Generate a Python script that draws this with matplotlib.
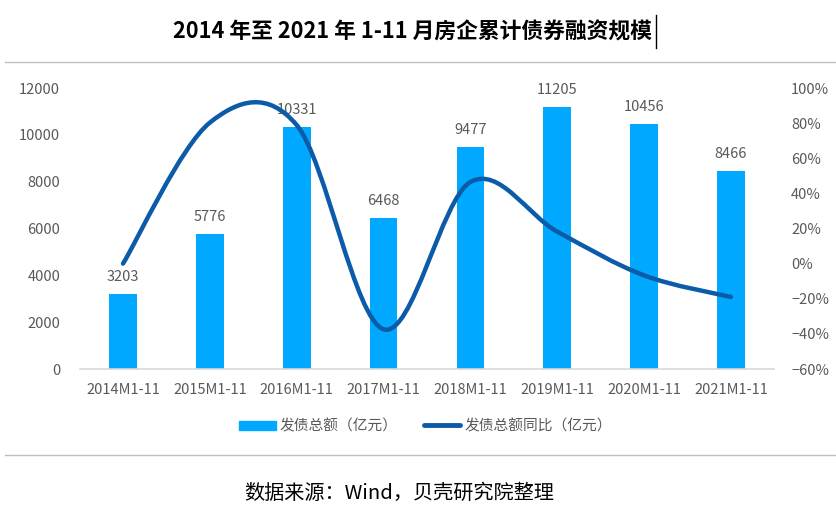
import matplotlib.pyplot as plt
import numpy as np
from matplotlib.path import Path
from matplotlib.patches import PathPatch
from matplotlib.lines import Line2D
from matplotlib.ticker import PercentFormatter

plt.rcParams['font.family'] = ['Noto Sans CJK SC', 'DejaVu Sans']

years = ['2014M1-11', '2015M1-11', '2016M1-11', '2017M1-11',
         '2018M1-11', '2019M1-11', '2020M1-11', '2021M1-11']
amount = [3203, 5776, 10331, 6468, 9477, 11205, 10456, 8466]
yoy = [0.0, 80.3, 78.9, -37.4, 46.5, 18.2, -6.7, -19.0]

BAR_C = '#00A9FF'
LINE_C = '#0B5BA8'
TXT_C = '#595959'


def smooth_path(xs, ys):
    # excel-style smoothed line: cubic bezier through every point
    pts = np.column_stack([xs, ys]).astype(float)
    n = len(pts)
    verts = [pts[0]]
    codes = [Path.MOVETO]
    for i in range(n - 1):
        p0 = pts[max(i - 1, 0)]
        p1 = pts[i]
        p2 = pts[i + 1]
        p3 = pts[min(i + 2, n - 1)]
        c1 = p1 + (p2 - p0) / 6
        c2 = p2 - (p3 - p1) / 6
        verts += [c1, c2, p2]
        codes += [Path.CURVE4] * 3
    return Path(verts, codes)


fig = plt.figure(figsize=(8.36, 5.19), dpi=100)
ax = fig.add_axes([0.0952, 0.289, 0.8311, 0.5414])
x = np.arange(len(years))

ax.bar(x, amount, width=0.32, color=BAR_C, zorder=2)
for xi, v in zip(x, amount):
    ax.annotate(str(v), (xi, v), xytext=(0, 7), textcoords='offset points',
                ha='center', va='bottom', fontsize=10.5, color=TXT_C)

ax.set_xlim(-0.5, len(years) - 0.5)
ax.set_ylim(0, 12000)
ax.set_yticks(range(0, 12001, 2000))
ax.set_xticks(x)
ax.set_xticklabels(years)
ax.tick_params(length=0, labelsize=10.5, labelcolor=TXT_C)
ax.tick_params(axis='x', pad=10)
ax.tick_params(axis='y', pad=14)
for s in ['top', 'right', 'left']:
    ax.spines[s].set_visible(False)
ax.spines['bottom'].set_color('#D9D9D9')
ax.spines['bottom'].set_linewidth(1.2)

ax2 = ax.twinx()
ax2.set_ylim(-60, 100)
ax2.set_yticks(range(-60, 101, 20))
ax2.yaxis.set_major_formatter(PercentFormatter(decimals=0))
ax2.tick_params(length=0, labelsize=10.5, labelcolor=TXT_C, pad=12)
for s in ax2.spines.values():
    s.set_visible(False)
ax2.add_patch(PathPatch(smooth_path(x, yoy), facecolor='none', edgecolor=LINE_C,
                        lw=3.2, capstyle='round', zorder=3))

handles = [plt.Rectangle((0, 0), 1, 1, color=BAR_C),
           Line2D([], [], color=LINE_C, lw=3.5, solid_capstyle='round')]
fig.legend(handles, ['发债总额（亿元）', '发债总额同比（亿元）'], loc='center',
           bbox_to_anchor=(0.509, 0.179), ncol=2, frameon=False, fontsize=10.6,
           labelcolor=TXT_C, handlelength=2.5, handleheight=0.55,
           handletextpad=0.25, columnspacing=1.75)

fig.text(0.493, 0.938, '2014 年至 2021 年 1-11 月房企累计债券融资规模',
         ha='center', va='center', fontsize=15.7, fontweight='bold', color='black')
fig.add_artist(Line2D([0.785, 0.785], [0.907, 0.972], color='black', lw=1))

fig.add_artist(Line2D([0.006, 1.0], [1 - 62 / 519] * 2, color='#BFBFBF', lw=1))
fig.add_artist(Line2D([0.006, 1.0], [1 - 455 / 519] * 2, color='#BFBFBF', lw=1))

fig.text(0.478, 1 - 493 / 519, '数据来源：Wind，贝壳研究院整理',
         ha='center', va='center', fontsize=14.5, color='black')

fig.savefig('out.png', dpi=100)
